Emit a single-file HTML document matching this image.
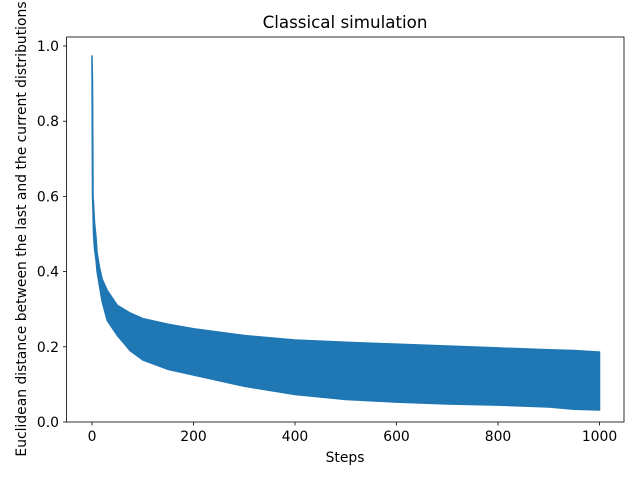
<!DOCTYPE html>
<html><head><meta charset="utf-8"><style>
body{margin:0;background:#fff;font-family:"Liberation Sans","DejaVu Sans",sans-serif}
svg text{font-family:"DejaVu Sans","Liberation Sans",sans-serif;font-size:13.9px;fill:#000}
</style></head><body>
<svg id="chart" width="640" height="480" viewBox="0 0 640 480">
<rect width="640" height="480" fill="#fff"/>
<g id="marks"></g>
<rect x="66.5" y="37" width="557.5" height="385" fill="none" stroke="#000" stroke-width="0.8"/>
<g id="axes"></g>
<text x="345" y="28" text-anchor="middle" style="font-size:16.7px">Classical simulation</text>
<text x="345" y="462" text-anchor="middle">Steps</text>
<text transform="translate(26,229) rotate(-90)" text-anchor="middle">Euclidean distance between the last and the current distributions</text>
</svg>
<script>
const steps=[0,1,2,3,5,8,10,15,20,30,50,75,100,150,200,300,400,500,600,700,800,900,950,1000];
const upper=[0.975,0.9,0.6,0.58,0.53,0.49,0.45,0.41,0.38,0.35,0.31,0.29,0.275,0.26,0.248,0.23,0.218,0.212,0.207,0.202,0.197,0.192,0.19,0.186];
const lower=[0.975,0.6,0.56,0.5,0.46,0.43,0.4,0.36,0.32,0.27,0.23,0.19,0.165,0.14,0.125,0.095,0.073,0.06,0.053,0.048,0.045,0.04,0.034,0.032];
const xTicks=[0,200,400,600,800,1000];
const yTicks=[0.0,0.2,0.4,0.6,0.8,1.0];
const xs=v=>92+v*0.5075;
const ys=v=>422-v*376;
const NS="http://www.w3.org/2000/svg";
const marks=document.getElementById('marks');
let pts=steps.map((s,i)=>xs(s)+','+ys(upper[i]));
for(let i=steps.length-1;i>=0;i--)pts.push(xs(steps[i])+','+ys(lower[i]));
const poly=document.createElementNS(NS,'polygon');


poly.setAttribute('points',pts.join(' '));
poly.setAttribute('fill','#1f77b4');
poly.setAttribute('stroke','#1f77b4');
poly.setAttribute('stroke-width','1.5');
marks.appendChild(poly);
const axes=document.getElementById('axes');
xTicks.forEach(t=>{
const l=document.createElementNS(NS,'line');


l.setAttribute('x1',xs(t));l.setAttribute('x2',xs(t));l.setAttribute('y1',422);l.setAttribute('y2',425.5);
l.setAttribute('stroke','#000');l.setAttribute('stroke-width','0.8');axes.appendChild(l);
const tx=document.createElementNS(NS,'text');


tx.setAttribute('x',xs(t));tx.setAttribute('y',441);tx.setAttribute('text-anchor','middle');
tx.textContent=t;axes.appendChild(tx);
});
yTicks.forEach(t=>{
const l=document.createElementNS(NS,'line');


l.setAttribute('x1',63);l.setAttribute('x2',66.5);l.setAttribute('y1',ys(t));l.setAttribute('y2',ys(t));
l.setAttribute('stroke','#000');l.setAttribute('stroke-width','0.8');axes.appendChild(l);
const tx=document.createElementNS(NS,'text');


tx.setAttribute('x',59);tx.setAttribute('y',ys(t)+5);tx.setAttribute('text-anchor','end');
tx.textContent=t.toFixed(1);axes.appendChild(tx);
});
</script>
</body></html>
